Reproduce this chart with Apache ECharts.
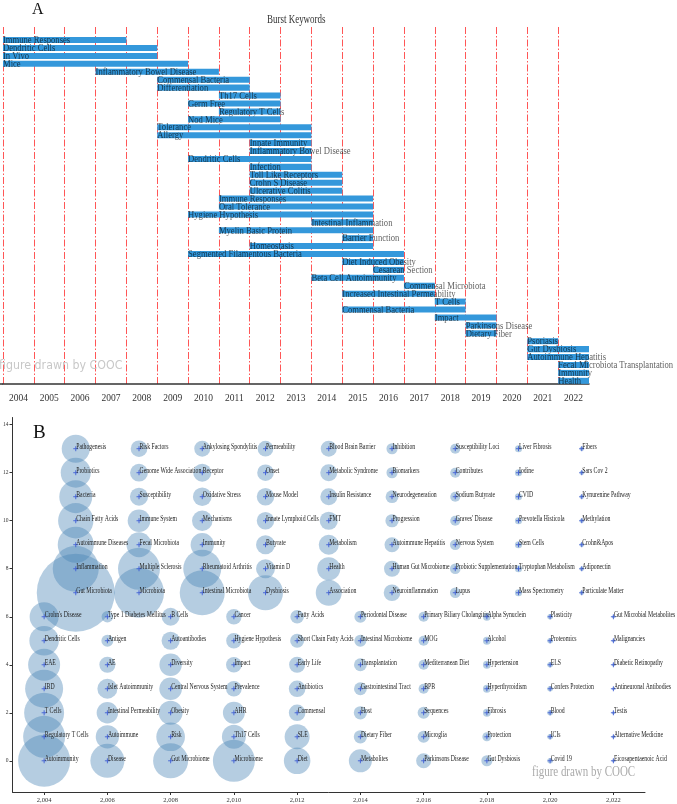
<!DOCTYPE html>
<html><head><meta charset="utf-8">
<script src="https://cdn.jsdelivr.net/npm/echarts@6/dist/echarts.min.js"></script>
<style>html,body{margin:0;padding:0;background:#fff}#c{width:677px;height:804px}</style>
</head><body><div id="c"></div>
<script>
// ---------- Panel A: burst keywords ----------
const burstKeywords = ['Immune Responses','Dendritic Cells','In Vivo','Mice','Inflammatory Bowel Disease','Commensal Bacteria','Differentiation','Th17 Cells','Germ Free','Regulatory T Cells','Nod Mice','Tolerance','Allergy','Innate Immunity','Inflammatory Bowel Disease','Dendritic Cells','Infection','Toll Like Receptors','Crohn S Disease','Ulcerative Colitis','Immune Responses','Oral Tolerance','Hygiene Hypothesis','Intestinal Inflammation','Myelin Basic Protein','Barrier Function','Homeostasis','Segmented Filamentous Bacteria','Diet Induced Obesity','Cesarean Section','Beta Cell Autoimmunity','Commensal Microbiota','Increased Intestinal Permeability','T Cells','Commensal Bacteria','Impact','Parkinsons Disease','Dietary Fiber','Psoriasis','Gut Dysbiosis','Autoimmune Hepatitis','Fecal Microbiota Transplantation','Immunity','Health'];
const burstStart = [2004,2004,2004,2004,2007,2009,2009,2011,2010,2011,2010,2009,2009,2012,2012,2010,2012,2012,2012,2012,2011,2011,2010,2014,2011,2015,2012,2010,2015,2016,2014,2017,2015,2018,2015,2018,2019,2019,2021,2021,2021,2022,2022,2022];
const burstEnd   = [2007,2008,2008,2009,2010,2011,2011,2012,2012,2012,2012,2013,2013,2013,2013,2013,2013,2014,2014,2014,2015,2015,2015,2015,2015,2015,2015,2016,2016,2016,2016,2017,2017,2018,2018,2019,2019,2019,2021,2022,2022,2022,2022,2022];
const burstYearLabels = ['2004','2005','2006','2007','2008','2009','2010','2011','2012','2013','2014','2015','2016','2017','2018','2019','2020','2021','2022'];

// ---------- Panel B: keyword bubbles by year ----------
const bubbleYears = [2004,2005,2006,2007,2008,2009,2010,2011,2012,2013,2014,2015,2016,2017,2018,2019,2020,2021,2022];
const bubbleWords = [
  ['Autoimmunity','Regulatory T Cells','T Cells','IBD','EAE','Dendritic Cells',"Crohn's Disease"],
  ['Gut Microbiota','Inflammation','Autoimmune Diseases','Chain Fatty Acids','Bacteria','Probiotics','Pathogenesis'],
  ['Disease','Autoimmune','Intestinal Permeability','Islet Autoimmunity','AE','Antigen','Type 1 Diabetes Mellitus'],
  ['Microbiota','Multiple Sclerosis','Fecal Microbiota','Immune System','Susceptibility','Genome Wide Association','Risk Factors'],
  ['Gut Microbiome','Risk','Obesity','Central Nervous System','Diversity','Autoantibodies','B Cells'],
  ['Intestinal Microbiota','Rheumatoid Arthritis','Immunity','Mechanisms','Oxidative Stress','Receptor','Ankylosing Spondylitis'],
  ['Microbiome','Th17 Cells','AHR','Prevalence','Impact','Hygiene Hypothesis','Cancer'],
  ['Dysbiosis','Vitamin D','Butyrate','Innate Lymphoid Cells','Mouse Model','Onset','Permeability'],
  ['Diet','SLE','Commensal','Antibiotics','Early Life','Short Chain Fatty Acids','Fatty Acids'],
  ['Association','Health','Metabolism','FMT','Insulin Resistance','Metabolic Syndrome','Blood Brain Barrier'],
  ['Metabolites','Dietary Fiber','Host','Gastrointestinal Tract','Transplantation','Intestinal Microbiome','Periodontal Disease'],
  ['Neuroinflammation','Human Gut Microbiome','Autoimmune Hepatitis','Progression','Neurodegeneration','Biomarkers','Inhibition'],
  ['Parkinsons Disease','Microglia','Sequences','BPB','Mediterranean Diet','MOG','Primary Biliary Cholangitis'],
  ['Lupus','Probiotic Supplementation','Nervous System',"Graves' Disease",'Sodium Butyrate','Contributes','Susceptibility Loci'],
  ['Gut Dysbiosis','Protection','Fibrosis','Hyperthyroidism','Hypertension','Alcohol','Alpha Synuclein'],
  ['Mass Spectrometry','Tryptophan Metabolism','Stem Cells','Prevotella Histicola','CVID','Iodine','Liver Fibrosis'],
  ['Covid 19','ICIs','Blood','Confers Protection','ELS','Proteomics','Plasticity'],
  ['Particulate Matter','Adiponectin','Crohn&Apos','Methylation','Kynurenine Pathway','Sars Cov 2','Fibers'],
  ['Eicosapentaenoic Acid','Alternative Medicine','Testis','Antineuronal Antibodies','Diabetic Retinopathy','Malignancies','Gut Microbial Metabolites']
];
const bubbleFreq = [
  [264,172,156,141,100,85,82],
  [594,207,127,122,106,88,77],
  [113,53,45,39,25,14,13],
  [244,172,61,50,32,31,27],
  [120,80,56,50,49,32,31],
  [198,141,53,41,34,32,25],
  [172,56,47,24,24,23,23],
  [120,35,35,30,30,27,24],
  [69,61,27,27,25,19,18],
  [66,52,39,32,28,28,25],
  [52,17,17,16,16,14,14],
  [27,25,22,17,16,12,12],
  [22,14,14,10,10,10,10],
  [11,11,11,10,10,10,10],
  [12,8,6,6,6,6,6],
  [5,5,5,5,5,5,5],
  [3,3,3,3,3,3,3],
  [2,2,2,2,2,2,2],
  [1,1,1,1,1,1,1]
];
const bubbleTicksX = [2004,2006,2008,2010,2012,2014,2016,2018,2020,2022];
const bubbleTicksY = [0,2,4,6,8,10,12,14];

const serif = "'Liberation Serif','Times New Roman',serif";

// build data
const burstData = burstKeywords.map((k, i) => [i, burstStart[i], burstEnd[i]]);
const bubbleNames = [];
const bubbleData = [];
const labelData = [];
bubbleYears.forEach((yr, yi) => {
  bubbleWords[yi].forEach((w, k) => {
    const row = (yi % 2 === 0) ? k : k + 7;
    bubbleNames.push(w);
    bubbleData.push([yr, row, bubbleFreq[yi][k]]);
    labelData.push([yr, row, bubbleNames.length - 1]);
  });
});

const chart = echarts.init(document.getElementById('c'));
const option = {
  animation: false,
  backgroundColor: '#fff',
  grid: [
    {left: 3, right: 88, top: 27, height: 357},
    {left: 12, right: 32, top: 417.5, bottom: 12}
  ],
  xAxis: [
    {type: 'value', gridIndex: 0, min: 2004, max: 2023, interval: 1,
     axisLine: {show: true, onZero: false, lineStyle: {color: '#333', width: 1.5}},
     axisTick: {show: false}, axisLabel: {show: false},
     splitLine: {show: true, showMinLine: true, showMaxLine: false,
       lineStyle: {color: 'rgba(255,30,30,0.75)', width: 1, type: [7, 2, 1.5, 2]}}},
    {type: 'category', gridIndex: 0, data: burstYearLabels, boundaryGap: true, position: 'bottom',
     axisLine: {show: false, onZero: false}, axisTick: {show: false}, splitLine: {show: false},
     axisLabel: {show: true, interval: 0, fontFamily: serif, fontSize: 9.5, color: '#333', margin: 9}},
    {type: 'value', gridIndex: 1, min: 2003, max: 2023,
     axisLine: {show: true, onZero: false, lineStyle: {color: '#333', width: 1}},
     axisTick: {show: true, length: 3, customValues: bubbleTicksX, lineStyle: {color: '#333'}},
     axisLabel: {show: true, customValues: bubbleTicksX, fontFamily: serif, fontSize: 6.5, color: '#333', margin: 5},
     splitLine: {show: false}}
  ],
  yAxis: [
    {type: 'value', gridIndex: 0, min: -1.65, max: 43.4, inverse: true, show: false},
    {type: 'value', gridIndex: 1, min: -1.3, max: 14.3,
     axisLine: {show: true, onZero: false, lineStyle: {color: '#333', width: 1}},
     axisTick: {show: true, length: 3, customValues: bubbleTicksY, lineStyle: {color: '#333'}},
     axisLabel: {show: true, customValues: bubbleTicksY, fontFamily: serif, fontSize: 5.5, color: '#333', margin: 4},
     splitLine: {show: false}}
  ],
  graphic: [
    {type: 'line', shape: {x1: 0, y1: 384, x2: 3, y2: 384}, style: {stroke: '#333', lineWidth: 1.5}},
    {type: 'text', x: 32, y: 9.5, style: {text: 'A', font: "16px 'Liberation Serif'", fill: '#111', textVerticalAlign: 'middle'}},
    {type: 'text', x: 267, y: 19.5, scaleX: 0.78, style: {text: 'Burst Keywords', font: "11.5px 'Liberation Serif'", fill: '#333', textVerticalAlign: 'middle'}},
    {type: 'text', x: -1, y: 366, scaleX: 0.85, z: 100, style: {text: 'figure drawn by COOC', font: "13px 'DejaVu Sans'", fill: '#c8c8c8', textVerticalAlign: 'middle'}},
    {type: 'text', x: 33, y: 433.5, style: {text: 'B', font: "19px 'Liberation Serif'", fill: '#111', textVerticalAlign: 'middle'}},
    {type: 'text', x: 532, y: 772, scaleX: 0.73, z: 100, style: {text: 'figure drawn by COOC', font: "15px 'Liberation Serif'", fill: '#aaa', textVerticalAlign: 'middle'}}
  ],
  series: [
    {
      type: 'custom', xAxisIndex: 0, yAxisIndex: 0, data: burstData, encode: {x: [1, 2], y: 0}, clip: false,
      renderItem: function (params, api) {
        const i = api.value(0), s = api.value(1), e = api.value(2);
        const p0 = api.coord([s, i]);
        const p1 = api.coord([e + 1, i]);
        const h = api.size([0, 1])[1] * 0.76;
        return {type: 'group', children: [
          {type: 'rect', shape: {x: p0[0], y: p0[1] - h / 2, width: p1[0] - p0[0], height: h}, style: {fill: '#3498db'}},
          {type: 'text', x: p0[0], y: p0[1] + 0.5, scaleX: 0.82,
           style: {text: burstKeywords[i], font: "10.5px 'Liberation Serif'", fill: 'rgba(0,0,0,0.65)', textAlign: 'left', textVerticalAlign: 'middle'}}
        ]};
      }
    },
    {
      type: 'scatter', xAxisIndex: 2, yAxisIndex: 1, data: bubbleData, silent: true,
      symbolSize: function (v) { return 3.2 * Math.sqrt(v[2]); },
      itemStyle: {color: 'rgba(70,130,180,0.4)', borderWidth: 0, opacity: 1}
    },
    {
      type: 'custom', xAxisIndex: 2, yAxisIndex: 1, data: labelData, encode: {x: 0, y: 1}, clip: false, z: 5,
      renderItem: function (params, api) {
        const p = api.coord([api.value(0), api.value(1)]);
        const idx = api.value(2);
        const m = 2.5;
        return {type: 'group', children: [
          {type: 'line', shape: {x1: p[0] - m, y1: p[1], x2: p[0] + m, y2: p[1]}, style: {stroke: '#3f5fd6', lineWidth: 0.9}},
          {type: 'line', shape: {x1: p[0], y1: p[1] - m, x2: p[0], y2: p[1] + m}, style: {stroke: '#3f5fd6', lineWidth: 0.9}},
          {type: 'text', x: p[0] + 0.5, y: p[1] - 2, scaleX: 0.72,
           style: {text: bubbleNames[idx], font: "8px 'Liberation Serif'", fill: '#222', textAlign: 'left', textVerticalAlign: 'middle'}}
        ]};
      }
    }
  ]
};
chart.setOption(option);
</script></body></html>
